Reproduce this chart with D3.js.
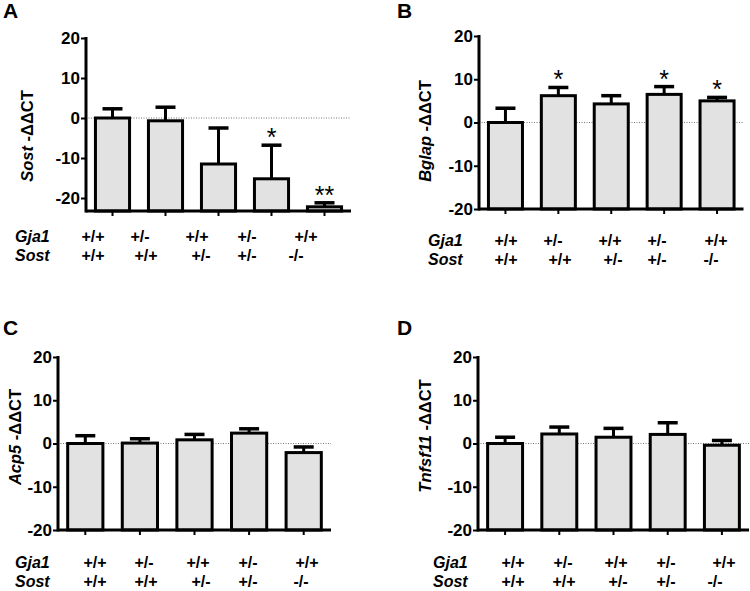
<!DOCTYPE html>
<html>
<head>
<meta charset="utf-8">
<script src="https://cdn.jsdelivr.net/npm/d3@7"></script>
<style>
  html, body { margin: 0; padding: 0; background: #fff; }
  svg { display: block; font-family: "Liberation Sans", Arial, Helvetica, sans-serif; }
</style>
</head>
<body>
<svg id="chart" width="750" height="591"></svg>
<script>
// ---- data ----
const groups = ["G1", "G2", "G3", "G4", "G5"];
const gja1Labels = ["+/+", "+/-", "+/+", "+/-", "+/+"];
const sostLabels = ["+/+", "+/+", "+/-", "+/-", "-/-"];
const yTicks = [20, 10, 0, -10, -20];

const sostMean = [0, -0.7, -11.5, -15.2, -22.2];
const sostErr  = [2.3, 3.4, 9.0, 8.4, 1.0];
const sostStars = ["", "", "", "*", "**"];

const bglapMean = [0, 6.2, 4.3, 6.5, 5.0];
const bglapErr  = [3.3, 1.9, 1.9, 1.8, 0.8];
const bglapStars = ["", "*", "", "*", "*"];

const acp5Mean = [0, 0.1, 0.85, 2.4, -2.1];
const acp5Err  = [1.8, 1.0, 1.25, 1.0, 1.3];
const acp5Stars = ["", "", "", "", ""];

const tnfMean = [0, 2.2, 1.45, 2.1, -0.4];
const tnfErr  = [1.45, 1.6, 2.05, 2.7, 1.1];
const tnfStars = ["", "", "", "", ""];

// ---- layout ----
const panels = [
  { letter: "A", gene: "Sost", mean: sostMean, err: sostErr, stars: sostStars,
    letterPos: [3, 18], axisX: 86, xEnd: 351, yTop: 38, yBottom: 211, yMin: -23.25,
    titlePos: [33, 136], rowLabelX: 15, rowY: [242, 261],
    gjaX: [93, 140, 197, 247, 306], sostX: [93, 146, 201, 247, 296] },
  { letter: "B", gene: "Bglap", mean: bglapMean, err: bglapErr, stars: bglapStars,
    letterPos: [397, 18], axisX: 479, xEnd: 743.5, yTop: 36, yBottom: 209, yMin: -20,
    titlePos: [431, 131], rowLabelX: 428, rowY: [246, 265],
    gjaX: [506, 553, 610, 657, 716], sostX: [506, 560, 613, 657, 711] },
  { letter: "C", gene: "Acp5", mean: acp5Mean, err: acp5Err, stars: acp5Stars,
    letterPos: [3, 335], axisX: 58, xEnd: 331, yTop: 357, yBottom: 530, yMin: -20,
    titlePos: [21, 437], rowLabelX: 15, rowY: [568, 587],
    gjaX: [95, 144, 198, 248, 307], sostX: [95, 146, 201, 248, 301] },
  { letter: "D", gene: "Tnfsf11", mean: tnfMean, err: tnfErr, stars: tnfStars,
    letterPos: [397, 335], axisX: 478, xEnd: 749, yTop: 357, yBottom: 530, yMin: -20,
    titlePos: [431, 436], rowLabelX: 433, rowY: [568, 587],
    gjaX: [513, 563, 616, 666, 724], sostX: [513, 564, 618, 666, 715] }
];

const svg = d3.select("#chart");

panels.forEach(p => {
  const g = svg.append("g");
  const y = d3.scaleLinear().domain([p.yMin, 20]).range([p.yBottom, p.yTop]);
  const x = d3.scaleBand().domain(groups).range([p.axisX, p.xEnd])
    .paddingInner(0.3).paddingOuter(0.15);
  const bw = x.bandwidth();

  // panel letter
  g.append("text").attr("x", p.letterPos[0]).attr("y", p.letterPos[1])
    .attr("font-size", 21).attr("font-weight", "bold").text(p.letter);

  // zero dotted line
  g.append("line").attr("x1", p.axisX).attr("x2", p.xEnd)
    .attr("y1", y(0)).attr("y2", y(0))
    .attr("stroke", "#777").attr("stroke-width", 1).attr("stroke-dasharray", "1,1.5");

  const data = groups.map((k, i) => ({ k, m: p.mean[i], e: p.err[i], s: p.stars[i] }));

  // error bars (upper only)
  const eb = g.append("g");
  eb.selectAll("line.v").data(data).join("line")
    .attr("x1", d => x(d.k) + bw / 2).attr("x2", d => x(d.k) + bw / 2)
    .attr("y1", d => y(d.m)).attr("y2", d => y(d.m + d.e))
    .attr("stroke", "#000").attr("stroke-width", 3);
  eb.selectAll("line.c").data(data).join("line")
    .attr("x1", d => x(d.k) + bw / 2 - 10).attr("x2", d => x(d.k) + bw / 2 + 10)
    .attr("y1", d => y(d.m + d.e)).attr("y2", d => y(d.m + d.e))
    .attr("stroke", "#000").attr("stroke-width", 3.5);

  // bars
  g.append("g").selectAll("rect").data(data).join("rect")
    .attr("x", d => x(d.k) + 1.5).attr("width", bw - 3)
    .attr("y", d => y(d.m)).attr("height", d => Math.max(0, p.yBottom - y(d.m)))
    .attr("fill", "#e2e2e2").attr("stroke", "#000").attr("stroke-width", 3);

  // stars
  g.append("g").selectAll("text").data(data.filter(d => d.s)).join("text")
    .attr("x", d => x(d.k) + bw / 2).attr("y", d => y(d.m + d.e) + 1)
    .attr("text-anchor", "middle").attr("font-size", 25).text(d => d.s);

  // y axis
  const yAxis = d3.axisLeft(y).tickValues(yTicks).tickSize(5).tickSizeOuter(0)
    .tickFormat(d => String(d));
  const ya = g.append("g").attr("transform", `translate(${p.axisX},0)`).call(yAxis);
  ya.select(".domain").remove();
  ya.append("line").attr("x1", 0).attr("x2", 0).attr("y1", y(20) - 1).attr("y2", p.yBottom + 1.5)
    .attr("stroke", "#000").attr("stroke-width", 3);
  ya.selectAll(".tick line").attr("stroke-width", 2);
  ya.selectAll(".tick text").attr("font-size", 17).attr("font-weight", "bold")
    .attr("font-family", "Liberation Sans, Arial, sans-serif").attr("fill", "#000").attr("x", -6);

  // x axis
  const xAxis = d3.axisBottom(x).tickSize(5).tickSizeOuter(0).tickFormat("");
  const xa = g.append("g").attr("transform", `translate(0,${p.yBottom})`).call(xAxis);
  xa.select(".domain").remove();
  xa.append("line").attr("x1", p.axisX).attr("x2", p.xEnd).attr("y1", 0).attr("y2", 0)
    .attr("stroke", "#000").attr("stroke-width", 3);
  xa.selectAll(".tick line").attr("stroke-width", 2);

  // axis title
  const t = g.append("text")
    .attr("transform", `translate(${p.titlePos[0]},${p.titlePos[1]}) rotate(-90)`)
    .attr("text-anchor", "middle").attr("font-size", 16.5).attr("font-weight", "bold");
  t.append("tspan").attr("font-style", "italic").text(p.gene);
  t.append("tspan").text(" -\u0394\u0394CT");

  // genotype rows
  const rows = [
    { name: "Gja1", labels: gja1Labels, xs: p.gjaX, y: p.rowY[0] },
    { name: "Sost", labels: sostLabels, xs: p.sostX, y: p.rowY[1] }
  ];
  rows.forEach(r => {
    g.append("text").attr("x", p.rowLabelX).attr("y", r.y)
      .attr("font-size", 16).attr("font-weight", "bold").attr("font-style", "italic").text(r.name);
    g.append("g").selectAll("text").data(r.labels).join("text")
      .attr("x", (d, i) => r.xs[i]).attr("y", r.y).attr("text-anchor", "middle")
      .attr("font-size", 16).attr("font-weight", "bold").text(d => d);
  });
});
</script>
</body>
</html>
